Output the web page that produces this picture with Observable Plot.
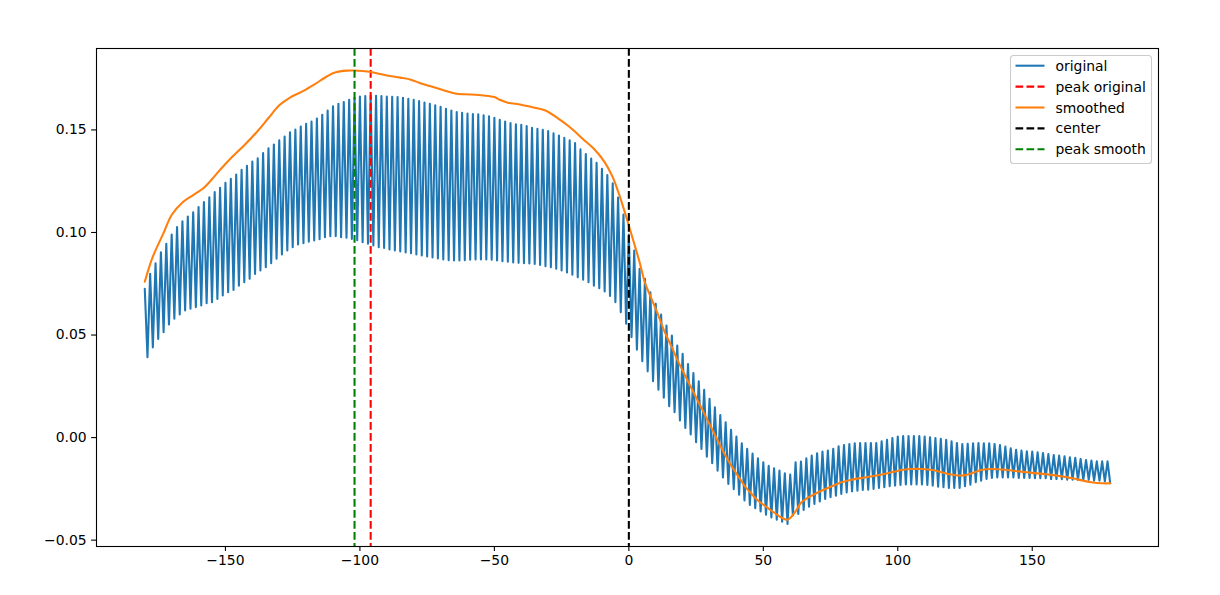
<!DOCTYPE html>
<html>
<head>
<meta charset="utf-8">
<script src="https://cdn.jsdelivr.net/npm/d3@7"></script>
<script src="https://cdn.jsdelivr.net/npm/@observablehq/plot@0.6"></script>
<style>
  html, body { margin: 0; padding: 0; background: white; }
  #wrap { position: relative; width: 1220px; height: 595px; }
  #legend { position: absolute; left: 0; top: 0; }
</style>
</head>
<body>
<div id="wrap"></div>
<script>
// ---- data ----
// original series: values at even degrees (-180, -178, ..., 178)
const originalEven = [
  0.0725,0.0799,0.0850,0.0904,0.0945,0.0990,0.1026,0.1054,0.1078,0.1099,
  0.1124,0.1148,0.1172,0.1197,0.1218,0.1242,0.1262,0.1283,0.1306,0.1325,
  0.1346,0.1362,0.1387,0.1411,0.1429,0.1449,0.1468,0.1489,0.1502,0.1517,
  0.1530,0.1541,0.1555,0.1574,0.1595,0.1615,0.1628,0.1636,0.1647,0.1657,
  0.1663,0.1665,0.1666,0.1667,0.1665,0.1663,0.1662,0.1660,0.1657,0.1652,
  0.1647,0.1641,0.1634,0.1628,0.1620,0.1613,0.1603,0.1595,0.1587,0.1584,
  0.1580,0.1577,0.1576,0.1571,0.1567,0.1559,0.1550,0.1541,0.1533,0.1528,
  0.1525,0.1519,0.1511,0.1506,0.1501,0.1494,0.1483,0.1473,0.1462,0.1449,
  0.1436,0.1405,0.1382,0.1360,0.1340,0.1310,0.1280,0.1240,0.1170,0.1088,
  0.0990,0.0912,0.0823,0.0774,0.0709,0.0652,0.0600,0.0546,0.0498,0.0449,
  0.0408,0.0359,0.0315,0.0275,0.0233,0.0189,0.0148,0.0110,0.0075,0.0038,
  0.0005,-0.0028,-0.0055,-0.0078,-0.0101,-0.0120,-0.0137,-0.0150,-0.0161,-0.0174,
  -0.0180,-0.0120,-0.0117,-0.0101,-0.0088,-0.0076,-0.0068,-0.0063,-0.0055,-0.0042,
  -0.0036,-0.0031,-0.0028,-0.0026,-0.0026,-0.0026,-0.0026,-0.0018,-0.0011,-0.0002,
  0.0005,0.0008,0.0008,0.0008,0.0008,0.0005,0.0002,-0.0002,-0.0006,-0.0011,
  -0.0018,-0.0026,-0.0032,-0.0030,-0.0028,-0.0027,-0.0028,-0.0028,-0.0031,-0.0036,
  -0.0044,-0.0052,-0.0059,-0.0063,-0.0067,-0.0068,-0.0072,-0.0075,-0.0080,-0.0085,
  -0.0088,-0.0091,-0.0096,-0.0099,-0.0104,-0.0109,-0.0112,-0.0116,-0.0116,-0.0116
];
// original series: values at odd degrees (-179, -177, ..., 179)
const originalOdd = [
  0.0392,0.0440,0.0481,0.0514,0.0551,0.0579,0.0600,0.0620,0.0628,0.0636,
  0.0644,0.0655,0.0660,0.0676,0.0693,0.0709,0.0720,0.0741,0.0758,0.0774,
  0.0798,0.0815,0.0831,0.0850,0.0872,0.0893,0.0912,0.0928,0.0941,0.0948,
  0.0955,0.0961,0.0967,0.0977,0.0982,0.0982,0.0977,0.0974,0.0968,0.0962,
  0.0953,0.0945,0.0937,0.0928,0.0924,0.0917,0.0912,0.0907,0.0902,0.0899,
  0.0893,0.0888,0.0883,0.0878,0.0873,0.0868,0.0865,0.0863,0.0863,0.0865,
  0.0867,0.0868,0.0868,0.0868,0.0867,0.0863,0.0860,0.0857,0.0854,0.0852,
  0.0850,0.0849,0.0847,0.0842,0.0836,0.0831,0.0823,0.0815,0.0805,0.0794,
  0.0782,0.0770,0.0757,0.0741,0.0728,0.0712,0.0690,0.0660,0.0611,0.0555,
  0.0489,0.0428,0.0372,0.0323,0.0275,0.0233,0.0194,0.0153,0.0124,0.0083,
  0.0047,0.0015,-0.0023,-0.0055,-0.0093,-0.0125,-0.0161,-0.0194,-0.0226,-0.0252,
  -0.0278,-0.0307,-0.0328,-0.0344,-0.0360,-0.0376,-0.0389,-0.0400,-0.0410,-0.0421,
  -0.0380,-0.0372,-0.0353,-0.0337,-0.0323,-0.0311,-0.0299,-0.0291,-0.0283,-0.0275,
  -0.0267,-0.0262,-0.0259,-0.0255,-0.0254,-0.0250,-0.0245,-0.0242,-0.0237,-0.0234,
  -0.0231,-0.0229,-0.0229,-0.0229,-0.0229,-0.0231,-0.0234,-0.0239,-0.0242,-0.0245,
  -0.0245,-0.0245,-0.0237,-0.0230,-0.0218,-0.0210,-0.0202,-0.0197,-0.0194,-0.0194,
  -0.0194,-0.0194,-0.0197,-0.0197,-0.0197,-0.0198,-0.0198,-0.0198,-0.0202,-0.0202,
  -0.0203,-0.0205,-0.0205,-0.0206,-0.0206,-0.0206,-0.0210,-0.0210,-0.0213,-0.0223
];
// smoothed series (sampled points)
const smoothDeg = [
  -180,-177,-173,-170,-166,-162,-158,-156,-152,-148,-143,-138,-134,-130,-126,-121,-117,-112,-109,-105,
  -102,-99,-96,-92,-89,-85,-81,-78,-74,-70,-66,-64,-59,-54,-50,-48,-45,-40,-35,-31,-27,
  -22,-17,-13,-9,-6,-4,-2,0,2,4,6,8,11,13,16,18,21,23,26,28,
  31,33,36,38,41,43,46,48,51,53,56,58,59,60,62,64,66,68,72,75,
  79,83,87,90,94,98,102,105,109,113,116,120,124,128,131,135,139,143,146,150,
  154,158,161,165,169,172,176,179
];
const smoothVal = [
  0.0760,0.0882,0.0998,0.1085,0.1146,0.1182,0.1218,0.1245,0.1305,0.1362,0.1425,0.1495,0.1558,0.1620,0.1658,0.1690,0.1721,0.1763,0.1781,0.1789,
  0.1790,0.1787,0.1782,0.1771,0.1763,0.1755,0.1745,0.1730,0.1714,0.1698,0.1683,0.1676,0.1673,0.1668,0.1660,0.1647,0.1633,0.1623,0.1608,0.1595,0.1562,
  0.1514,0.1455,0.1408,0.1343,0.1270,0.1200,0.1120,0.1034,0.0945,0.0855,0.0755,0.0690,0.0595,0.0525,0.0440,0.0380,0.0300,0.0248,0.0170,0.0118,
  0.0040,-0.0013,-0.0090,-0.0135,-0.0195,-0.0234,-0.0280,-0.0307,-0.0337,-0.0356,-0.0384,-0.0398,-0.0400,-0.0392,-0.0360,-0.0318,-0.0298,-0.0283,-0.0257,-0.0240,
  -0.0218,-0.0205,-0.0196,-0.0190,-0.0180,-0.0168,-0.0157,-0.0153,-0.0153,-0.0158,-0.0168,-0.0180,-0.0185,-0.0172,-0.0158,-0.0153,-0.0156,-0.0162,-0.0166,-0.0172,
  -0.0177,-0.0183,-0.0189,-0.0198,-0.0210,-0.0218,-0.0223,-0.0223
];
const peakOriginal = -96;
const peakSmooth = -102;
const center = 0;
const xTicks = [-150, -100, -50, 0, 50, 100, 150];
const yTicks = [-0.05, 0.00, 0.05, 0.10, 0.15];
const legendLabels = ["original", "peak original", "smoothed", "center", "peak smooth"];

// ---- tables built from the arrays ----
const original = [];
for (let i = 0; i < originalEven.length; i++) {
  original.push({deg: -180 + 2 * i, value: originalEven[i]});
  original.push({deg: -179 + 2 * i, value: originalOdd[i]});
}
const smoothed = smoothDeg.map((d, i) => ({deg: d, value: smoothVal[i]}));

const LW = 2.08;
const DASH = "7.7,3.3";
const fmt = d3.format(".2f");

const chart = Plot.plot({
  width: 1220,
  height: 595,
  marginLeft: 96,
  marginRight: 62,
  marginTop: 48,
  marginBottom: 49,
  style: {fontFamily: "DejaVu Sans", fontSize: "13.9px", background: "white", color: "black", overflow: "visible"},
  x: {domain: [-197.95, 196.95]},
  y: {domain: [-0.0531, 0.1897]},
  marks: [
    Plot.axisX({ticks: xTicks, tickFormat: d3.format("d"), tickSize: 4.9, tickPadding: 4, label: null, strokeWidth: 1.1}),
    Plot.axisY({ticks: yTicks, tickFormat: fmt, tickSize: 4.9, tickPadding: 4.9, label: null, strokeWidth: 1.1}),
    Plot.line(original, {x: "deg", y: "value", stroke: "#1f77b4", strokeWidth: LW, strokeLinejoin: "round"}),
    Plot.ruleX([peakOriginal], {stroke: "#ff0000", strokeWidth: LW, strokeDasharray: DASH}),
    Plot.line(smoothed, {x: "deg", y: "value", stroke: "#ff7f0e", strokeWidth: LW, curve: "catmull-rom"}),
    Plot.ruleX([center], {stroke: "black", strokeWidth: LW, strokeDasharray: DASH}),
    Plot.ruleX([peakSmooth], {stroke: "#008000", strokeWidth: LW, strokeDasharray: DASH}),
    Plot.frame({stroke: "black", strokeWidth: 1.1})
  ]
});
const wrap = document.getElementById("wrap");
wrap.appendChild(chart);

// ---- legend (matplotlib style, upper right inside the axes) ----
const legendColors = ["#1f77b4", "#ff0000", "#ff7f0e", "black", "#008000"];
const legendDashed = [false, true, false, true, true];
const ns = "http://www.w3.org/2000/svg";
const lg = document.createElementNS(ns, "svg");
lg.setAttribute("id", "legend");
lg.setAttribute("width", 1220);
lg.setAttribute("height", 595);
lg.style.pointerEvents = "none";
const box = document.createElementNS(ns, "rect");
box.setAttribute("x", 1010.5); box.setAttribute("y", 55.5);
box.setAttribute("width", 141); box.setAttribute("height", 108);
box.setAttribute("rx", 3); box.setAttribute("fill", "white"); box.setAttribute("fill-opacity", 0.8);
box.setAttribute("stroke", "#cccccc"); box.setAttribute("stroke-width", 1.1);
lg.appendChild(box);
legendLabels.forEach((lab, i) => {
  const yy = 65.7 + i * 20.9;
  const ln = document.createElementNS(ns, "line");
  ln.setAttribute("x1", 1015.5); ln.setAttribute("x2", 1044.5);
  ln.setAttribute("y1", yy); ln.setAttribute("y2", yy);
  ln.setAttribute("stroke", legendColors[i]); ln.setAttribute("stroke-width", LW);
  if (legendDashed[i]) ln.setAttribute("stroke-dasharray", DASH);
  lg.appendChild(ln);
  const t = document.createElementNS(ns, "text");
  t.setAttribute("x", 1055.5); t.setAttribute("y", yy + 5);
  t.setAttribute("font-family", "DejaVu Sans"); t.setAttribute("font-size", "13.9px");
  t.setAttribute("fill", "black");
  t.textContent = lab;
  lg.appendChild(t);
});
wrap.appendChild(lg);
</script>
</body>
</html>
